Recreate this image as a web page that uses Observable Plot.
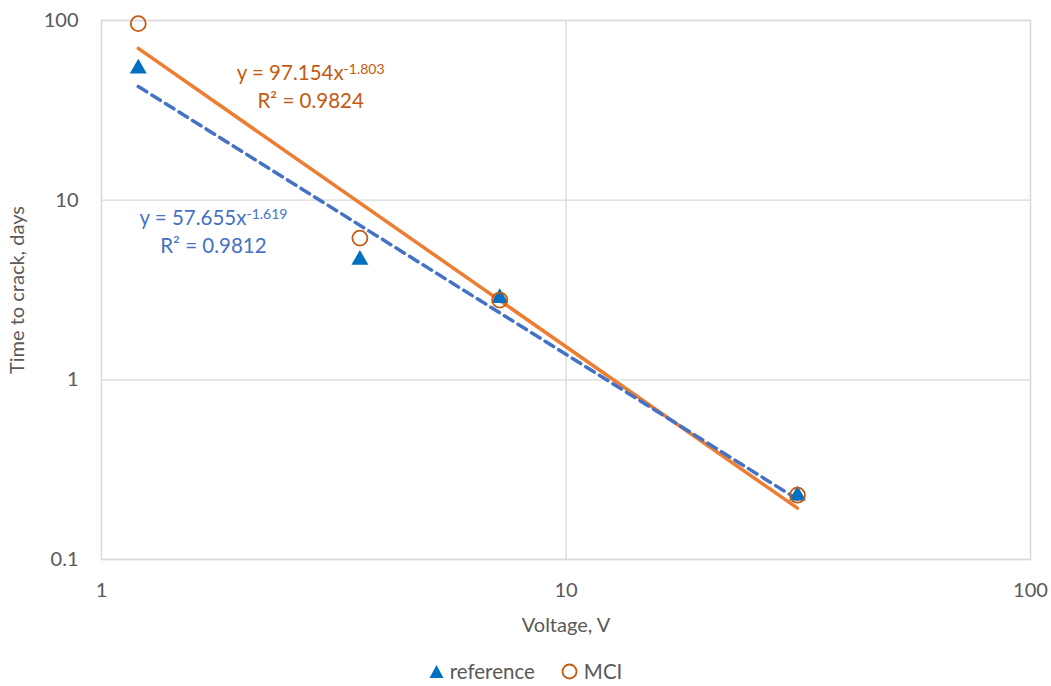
<!DOCTYPE html>
<html>
<head>
<meta charset="utf-8">
<script src="https://cdn.jsdelivr.net/npm/d3@7"></script>
<script src="https://cdn.jsdelivr.net/npm/@observablehq/plot@0.6"></script>
<style>
  body { margin: 0; background: #fff; font-family: Lato, "Open Sans", sans-serif; }
  #wrap { position: relative; width: 1051px; height: 686px; }
  #legend { position: absolute; left: 0; top: 659px; width: 1051px; display: flex; justify-content: center; gap: 26px; font-size: 20.5px; color: #595959; box-sizing: border-box; }
  #legend span { display: inline-flex; align-items: center; gap: 6px; }
</style>
</head>
<body>
<div id="wrap"><div id="chart"></div><div id="legend"></div></div>
<script>
// Data
const voltage = [1.2, 3.6, 7.2, 31.5];
const refDays = [54, 4.65, 2.85, 0.227];
const mciDays = [96, 6.15, 2.78, 0.228];

// Trendline (power fit) coefficients as printed on the chart
const seriesNames = ["reference", "MCI"];
const trendCoef = [57.655, 97.154];
const trendExp = [-1.619, -1.803];
const trendR2 = ["0.9812", "0.9824"];

const xTicks = [1, 10, 100];
const yTicks = [0.1, 1, 10, 100];

const refData = voltage.map((v, i) => ({x: v, y: refDays[i]}));
const mciData = voltage.map((v, i) => ({x: v, y: mciDays[i]}));
const xmin = d3.min(voltage), xmax = d3.max(voltage);
const trend = (i) => [xmin, xmax].map(x => ({x, y: trendCoef[i] * Math.pow(x, trendExp[i])}));

const labels = [
  {x: 1.742, y: 7.9, t: `y = ${trendCoef[0]}x^${trendExp[0]}`, c: "#4472C4"},
  {x: 1.742, y: 5.52, t: `R² = ${trendR2[0]}`, c: "#4472C4"},
  {x: 2.82, y: 50.7, t: `y = ${trendCoef[1]}x^${trendExp[1]}`, c: "#C55A11"},
  {x: 2.82, y: 35.4, t: `R² = ${trendR2[1]}`, c: "#C55A11"}
];

const plot = Plot.plot({
  width: 1051,
  height: 645,
  marginLeft: 101,
  marginRight: 21,
  marginTop: 20,
  marginBottom: 86,
  style: {fontFamily: "Lato, 'Open Sans', sans-serif", fontSize: "20px", color: "#595959", background: "#fff"},
  x: {type: "log", domain: [1, 100], ticks: xTicks, tickFormat: d => String(d), tickSize: 0, tickPadding: 23, label: "Voltage, V", labelArrow: "none", labelAnchor: "center", labelOffset: 72},
  y: {type: "log", domain: [0.1, 100], ticks: yTicks, tickFormat: d => String(d), tickSize: 0, tickPadding: 23, label: "Time to crack, days", labelArrow: "none", labelAnchor: "center", labelOffset: 92},
  marks: [
    Plot.gridX(xTicks, {stroke: "#d9d9d9", strokeOpacity: 1, strokeWidth: 1.3}),
    Plot.gridY(yTicks, {stroke: "#d9d9d9", strokeOpacity: 1, strokeWidth: 1.3}),
    Plot.frame({stroke: "#d9d9d9", strokeWidth: 1.3}),
    Plot.line(trend(1), {x: "x", y: "y", stroke: "#ED7D31", strokeWidth: 3.5}),
    Plot.line(trend(0), {x: "x", y: "y", stroke: "#4472C4", strokeWidth: 3.5, strokeDasharray: "10,6"}),
    Plot.dot(refData, {x: "x", y: "y", symbol: "triangle", r: 6.3, fill: "#0070C0", stroke: "none"}),
    Plot.dot(mciData, {x: "x", y: "y", symbol: "circle", r: 7.5, fill: "none", stroke: "#C55A11", strokeWidth: 1.8}),
    Plot.text(labels, {x: "x", y: "y", text: "t", fill: "c", fontSize: 20.5, textAnchor: "middle", className: "eqlabel"})
  ]
});

// Render superscripts for exponent
d3.select(plot).selectAll("g.eqlabel text").each(function() {
  const el = d3.select(this);
  const s = el.text();
  if (s.includes("^")) {
    const [base, exp] = s.split("^");
    el.text(null);
    el.append("tspan").text(base);
    el.append("tspan").attr("dy", "-0.45em").attr("font-size", "14px").text(exp);
  }
});

document.getElementById("chart").appendChild(plot);

// Legend
const leg = document.getElementById("legend");
leg.innerHTML = `
<span><svg width="15" height="15"><path d="M7.5,1 L14.5,14 L0.5,14 Z" fill="#0070C0"/></svg>${seriesNames[0]}</span>
<span><svg width="17" height="17"><circle cx="8.5" cy="8.5" r="7" fill="none" stroke="#C55A11" stroke-width="1.8"/></svg>${seriesNames[1]}</span>`;
</script>
</body>
</html>
